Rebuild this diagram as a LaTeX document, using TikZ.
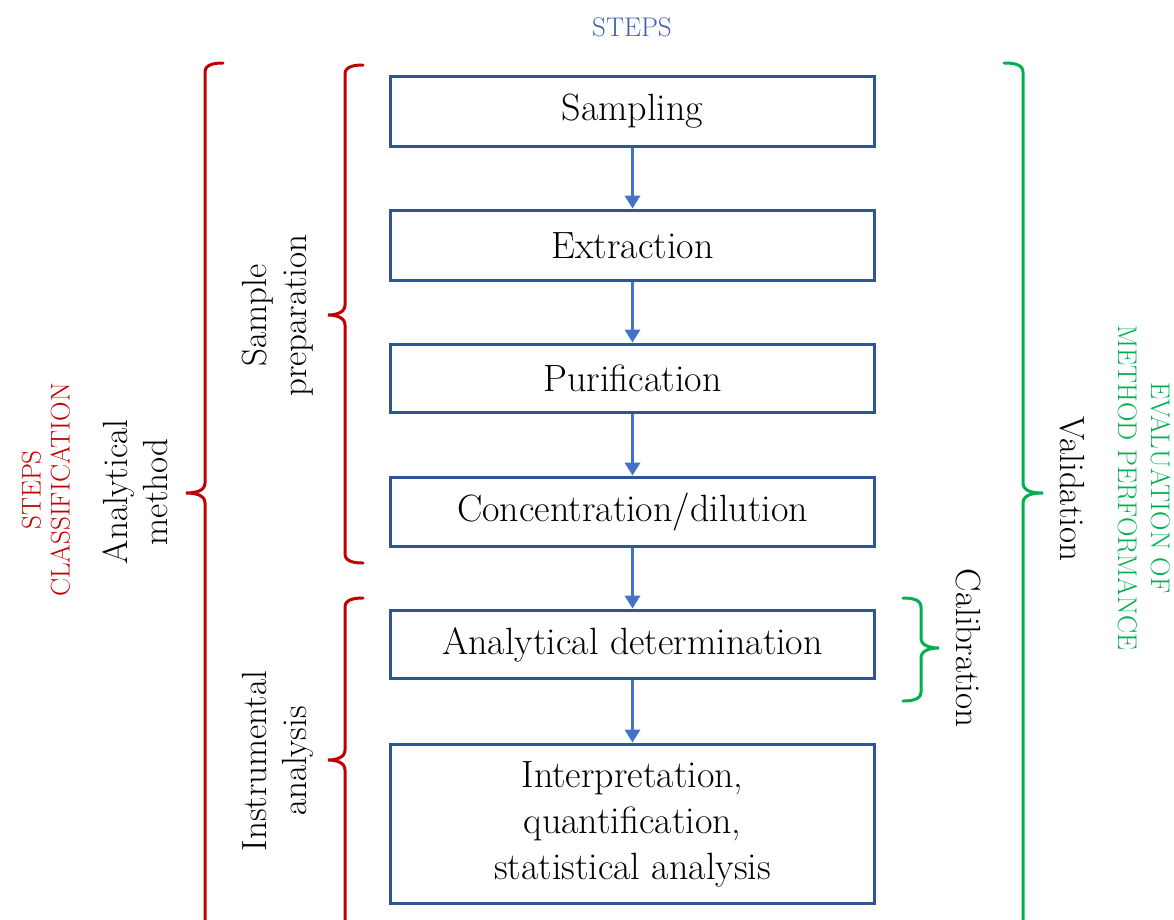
\documentclass[tikz,border=0pt]{standalone}
\usepackage{fontspec}
\usetikzlibrary{arrows.meta}
\definecolor{boxblue}{HTML}{2F5597}
\definecolor{arrblue}{HTML}{4472C4}
\definecolor{stepblue}{HTML}{3D61AC}
\definecolor{bred}{HTML}{C00000}
\definecolor{bgreen}{HTML}{00B050}
\tikzset{
  stepbox/.style={draw=boxblue, line width=3.8pt, minimum width=484pt, inner sep=0pt,
    align=center, font=\fontsize{38}{46}\selectfont},
  arr/.style={draw=arrblue, line width=3.5pt, -{Triangle[width=15pt,length=13pt]}},
  lbl/.style={align=center, font=\fontsize{35}{40}\selectfont},
  caplbl/.style={align=center, font=\fontsize{27}{29}\selectfont},
  redbrace/.style={draw=bred, line width=3pt, line cap=round},
  greenbrace/.style={draw=bgreen, line width=3pt, line cap=round},
}
\begin{document}
\begin{tikzpicture}[x=1pt,y=1pt]
\useasboundingbox (0,0) rectangle (1174,-919);
\clip (0,0) rectangle (1174,-919);
% title
\node[caplbl, text=stepblue] (title) at (632,-27) {STEPS};
% step boxes
\node[stepbox, minimum height=70pt] (s1) at (632.5,-111.5) {Sampling};
\node[stepbox, minimum height=70pt] (s2) at (632.5,-245.5) {Extraction};
\node[stepbox, minimum height=68pt] (s3) at (632.5,-378.5) {Purification};
\node[stepbox, minimum height=69pt] (s4) at (632.5,-512) {Concentration/dilution};
\node[stepbox, minimum height=68pt] (s5) at (632.5,-644.5) {Analytical determination};
\node[stepbox, minimum height=159pt] (s6) at (632.5,-824) {Interpretation,\\quantification,\\statistical analysis};
% arrows
\draw[arr] (s1.south) -- (s2.north);
\draw[arr] (s2.south) -- (s3.north);
\draw[arr] (s3.south) -- (s4.north);
\draw[arr] (s4.south) -- (s5.north);
\draw[arr] (s5.south) -- (s6.north);
% left labels
\node[caplbl, text=bred, rotate=90] (cls) at (46,-490) {STEPS\\CLASSIFICATION};
\node[lbl, rotate=90] (am) at (135,-492) {Analytical\\method};
\node[lbl, rotate=90] (sp) at (278,-315.5) {Sample\\preparation};
\node[lbl, rotate=90] (ia) at (278,-761) {Instrumental\\analysis};
% right labels
\node[caplbl, text=bgreen, rotate=-90, font=\fontsize{27}{33}\selectfont] (ev) at (1144,-488) {EVALUATION OF\\METHOD PERFORMANCE};
\node[lbl, rotate=-90] (val) at (1072,-489) {Validation};
\node[lbl, rotate=-90] (cal) at (968,-648) {Calibration};
% red braces
\draw[redbrace] (223,-63) to[out=180,in=90] (205,-72) -- (205,-483) to[out=-90,in=0] (186,-493) to[out=0,in=90] (205,-503) -- (205,-930);
\draw[redbrace] (363,-65) to[out=180,in=90] (345,-74) -- (345,-305) to[out=-90,in=0] (328,-315) to[out=0,in=90] (345,-325) -- (345,-554) to[out=-90,in=180] (363,-563);
\draw[redbrace] (363,-598) to[out=180,in=90] (345,-607) -- (345,-750) to[out=-90,in=0] (328,-760) to[out=0,in=90] (345,-770) -- (345,-930);
% green braces
\draw[greenbrace] (1004,-63) to[out=0,in=90] (1023,-72) -- (1023,-483) to[out=-90,in=180] (1043,-493) to[out=180,in=90] (1023,-503) -- (1023,-930);
\draw[greenbrace] (903,-598) to[out=0,in=90] (921,-607) -- (921,-638) to[out=-90,in=180] (939,-648) to[out=180,in=90] (921,-658) -- (921,-692) to[out=-90,in=0] (903,-701);
\end{tikzpicture}
\end{document}
